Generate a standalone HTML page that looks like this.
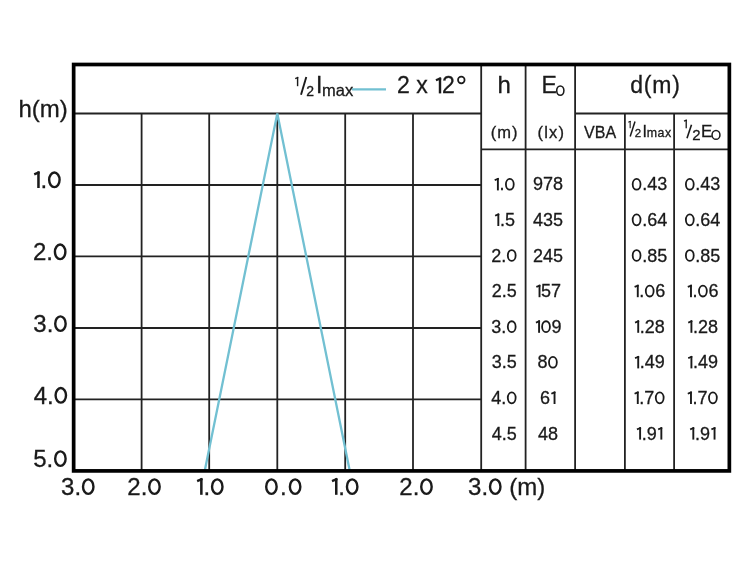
<!DOCTYPE html>
<html><head><meta charset="utf-8">
<style>
html,body{margin:0;padding:0;background:#fff;}
body{width:750px;height:562px;overflow:hidden;}
svg{display:block;will-change:transform;}
text{white-space:pre;font-family:"Liberation Sans",sans-serif;fill:#1a1a1a;stroke:#1a1a1a;stroke-width:0.3px;}
.g line{stroke:#222;stroke-width:1.8;}
.s{stroke:#1a1a1a;fill:none;stroke-linecap:butt;}
</style></head><body>
<svg width="750" height="562" viewBox="0 0 750 562">
<rect width="750" height="562" fill="#fff"/>
<g class="g">
<line x1="73.6" y1="113.5" x2="481.2" y2="113.5"/>
<line x1="73.6" y1="185" x2="481.2" y2="185"/>
<line x1="73.6" y1="256.4" x2="481.2" y2="256.4"/>
<line x1="73.6" y1="328" x2="481.2" y2="328"/>
<line x1="73.6" y1="399.4" x2="481.2" y2="399.4"/>
<line x1="141.6" y1="113.5" x2="141.6" y2="470"/>
<line x1="209.2" y1="113.5" x2="209.2" y2="470"/>
<line x1="277.3" y1="113.5" x2="277.3" y2="470"/>
<line x1="345.2" y1="113.5" x2="345.2" y2="470"/>
<line x1="413" y1="113.5" x2="413" y2="470"/>
<line x1="481.2" y1="64.5" x2="481.2" y2="470"/>
<line x1="525.6" y1="64.5" x2="525.6" y2="470"/>
<line x1="575.1" y1="64.5" x2="575.1" y2="470"/>
<line x1="624.9" y1="113.5" x2="624.9" y2="470"/>
<line x1="674.1" y1="113.5" x2="674.1" y2="470"/>
<line x1="575" y1="113.5" x2="729" y2="113.5"/>
<line x1="481.2" y1="149.4" x2="729" y2="149.4"/>
</g>
<polyline points="204.9,470 277.3,113.5 349.6,470" fill="none" stroke="#72c0d2" stroke-width="2.3" stroke-linejoin="miter"/>
<line x1="352" y1="89.3" x2="386" y2="89.3" stroke="#72c0d2" stroke-width="2.3"/>
<rect x="73.65" y="64.5" width="655.7" height="406.4" fill="none" stroke="#000" stroke-width="3.7"/>
<text x="18.5" y="117" font-size="24">h(m)</text>
<rect x="37.20" y="171.49" width="2.52" height="16.51" fill="#1a1a1a"/><line x1="35.33" y1="173.89" x2="38.46" y2="172.62" stroke="#1a1a1a" stroke-width="2.39" stroke-linecap="square"/>
<text x="40.56" y="188" font-size="24">.</text>
<ellipse cx="54.37" cy="179.83" rx="5.22" ry="7.26" fill="none" stroke="#1a1a1a" stroke-width="2.40"/>
<text x="32.99" y="260" font-size="24">2.</text>
<ellipse cx="60.15" cy="251.83" rx="5.22" ry="7.26" fill="none" stroke="#1a1a1a" stroke-width="2.40"/>
<text x="33.29" y="331.8" font-size="24">3.</text>
<ellipse cx="60.44" cy="323.63" rx="5.22" ry="7.26" fill="none" stroke="#1a1a1a" stroke-width="2.40"/>
<text x="33.65" y="403.5" font-size="24">4.</text>
<ellipse cx="60.80" cy="395.33" rx="5.22" ry="7.26" fill="none" stroke="#1a1a1a" stroke-width="2.40"/>
<text x="33.24" y="466.8" font-size="24">5.</text>
<ellipse cx="60.39" cy="458.63" rx="5.22" ry="7.26" fill="none" stroke="#1a1a1a" stroke-width="2.40"/>
<text x="61.09" y="494.8" font-size="24">3.</text>
<ellipse cx="88.24" cy="486.63" rx="5.22" ry="7.26" fill="none" stroke="#1a1a1a" stroke-width="2.40"/>
<text x="127.29" y="494.8" font-size="24">2.</text>
<ellipse cx="154.45" cy="486.63" rx="5.22" ry="7.26" fill="none" stroke="#1a1a1a" stroke-width="2.40"/>
<rect x="200.10" y="478.29" width="2.52" height="16.51" fill="#1a1a1a"/><line x1="198.23" y1="480.69" x2="201.36" y2="479.42" stroke="#1a1a1a" stroke-width="2.39" stroke-linecap="square"/>
<text x="203.46" y="494.8" font-size="24">.</text>
<ellipse cx="217.27" cy="486.63" rx="5.22" ry="7.26" fill="none" stroke="#1a1a1a" stroke-width="2.40"/>
<ellipse cx="271.42" cy="486.63" rx="5.22" ry="7.26" fill="none" stroke="#1a1a1a" stroke-width="2.40"/>
<text x="280.05" y="494.8" font-size="24" letter-spacing="1.25">.</text>
<ellipse cx="295.11" cy="486.63" rx="5.22" ry="7.26" fill="none" stroke="#1a1a1a" stroke-width="2.40"/>
<rect x="335.00" y="478.29" width="2.52" height="16.51" fill="#1a1a1a"/><line x1="333.13" y1="480.69" x2="336.26" y2="479.42" stroke="#1a1a1a" stroke-width="2.39" stroke-linecap="square"/>
<text x="338.36" y="494.8" font-size="24">.</text>
<ellipse cx="352.17" cy="486.63" rx="5.22" ry="7.26" fill="none" stroke="#1a1a1a" stroke-width="2.40"/>
<text x="399.29" y="494.8" font-size="24">2.</text>
<ellipse cx="426.45" cy="486.63" rx="5.22" ry="7.26" fill="none" stroke="#1a1a1a" stroke-width="2.40"/>
<text x="468.09" y="494.8" font-size="24">3.</text>
<ellipse cx="495.24" cy="486.63" rx="5.22" ry="7.26" fill="none" stroke="#1a1a1a" stroke-width="2.40"/>
<text x="502.62" y="494.8" font-size="24"> (m)</text>
<rect x="296.89" y="76.91" width="1.42" height="9.29" fill="#1a1a1a"/><line x1="295.84" y1="78.26" x2="297.60" y2="77.55" stroke="#1a1a1a" stroke-width="1.35" stroke-linecap="square"/>
<line class="s" x1="301" y1="94.7" x2="306.3" y2="77" stroke-width="1.9"/>
<text x="306.3" y="95.6" font-size="14">2</text>
<text x="316" y="93.4" font-size="23">I</text>
<text x="322" y="95.6" font-size="16.5">max</text>
<text x="397.00" y="93.4" font-size="23">2 x </text>
<rect x="438.79" y="77.58" width="2.42" height="15.82" fill="#1a1a1a"/><line x1="437.00" y1="79.88" x2="439.99" y2="78.66" stroke="#1a1a1a" stroke-width="2.29" stroke-linecap="square"/>
<text x="442.01" y="93.4" font-size="23">2</text>
<circle cx="461.3" cy="80" r="3.3" fill="none" stroke="#1a1a1a" stroke-width="1.7"/>
<text x="504.3" y="93.3" font-size="24" text-anchor="middle">h</text>
<text x="541.5" y="93.3" font-size="23">E</text>
<ellipse cx="560.3" cy="90.6" rx="3.6" ry="4.7" fill="none" stroke="#1a1a1a" stroke-width="1.55"/>
<text x="655.5" y="93" font-size="23" text-anchor="middle" letter-spacing="0.8">d(m)</text>
<text x="504.7" y="137.8" font-size="16.5" text-anchor="middle" letter-spacing="1">(m)</text>
<text x="551.3" y="137.8" font-size="16.5" text-anchor="middle" letter-spacing="1.2">(lx)</text>
<text x="600.1" y="138.2" font-size="16" text-anchor="middle">VBA</text>
<rect x="629.61" y="120.98" width="1.10" height="7.22" fill="#1a1a1a"/><line x1="628.80" y1="122.03" x2="630.16" y2="121.47" stroke="#1a1a1a" stroke-width="1.05" stroke-linecap="square"/>
<line class="s" x1="630.2" y1="136.4" x2="635" y2="121.6" stroke-width="1.5"/>
<text x="634.8" y="137" font-size="11.5">2</text>
<text x="642.6" y="137" font-size="16">I</text>
<text x="646.8" y="137" font-size="12.4" letter-spacing="0.5">max</text>
<rect x="685.56" y="119.70" width="1.31" height="8.60" fill="#1a1a1a"/><line x1="684.59" y1="120.95" x2="686.22" y2="120.29" stroke="#1a1a1a" stroke-width="1.25" stroke-linecap="square"/>
<line class="s" x1="687" y1="138.3" x2="691.5" y2="124.7" stroke-width="1.6"/>
<text x="692.3" y="139.7" font-size="15">2</text>
<text x="701" y="137" font-size="17">E</text>
<ellipse cx="716" cy="134.9" rx="3.95" ry="4.4" fill="none" stroke="#1a1a1a" stroke-width="1.5"/>
<rect x="496.94" y="178.02" width="1.89" height="12.38" fill="#1a1a1a"/><line x1="495.54" y1="179.82" x2="497.88" y2="178.87" stroke="#1a1a1a" stroke-width="1.80" stroke-linecap="square"/>
<text x="499.46" y="190.4" font-size="18">.</text>
<ellipse cx="509.82" cy="184.27" rx="3.92" ry="5.44" fill="none" stroke="#1a1a1a" stroke-width="1.80"/>
<text x="532.98" y="190.4" font-size="18">978</text>
<ellipse cx="636.60" cy="184.27" rx="3.92" ry="5.44" fill="none" stroke="#1a1a1a" stroke-width="1.80"/>
<text x="642.13" y="190.4" font-size="18">.43</text>
<ellipse cx="689.80" cy="184.27" rx="3.92" ry="5.44" fill="none" stroke="#1a1a1a" stroke-width="1.80"/>
<text x="695.33" y="190.4" font-size="18">.43</text>
<rect x="497.38" y="213.62" width="1.89" height="12.38" fill="#1a1a1a"/><line x1="495.98" y1="215.42" x2="498.32" y2="214.47" stroke="#1a1a1a" stroke-width="1.80" stroke-linecap="square"/>
<text x="499.90" y="226.0" font-size="18">.5</text>
<text x="532.98" y="226.0" font-size="18">435</text>
<ellipse cx="636.60" cy="219.87" rx="3.92" ry="5.44" fill="none" stroke="#1a1a1a" stroke-width="1.80"/>
<text x="642.13" y="226.0" font-size="18">.64</text>
<ellipse cx="689.80" cy="219.87" rx="3.92" ry="5.44" fill="none" stroke="#1a1a1a" stroke-width="1.80"/>
<text x="695.33" y="226.0" font-size="18">.64</text>
<text x="491.35" y="261.6" font-size="18">2.</text>
<ellipse cx="511.72" cy="255.47" rx="3.92" ry="5.44" fill="none" stroke="#1a1a1a" stroke-width="1.80"/>
<text x="532.98" y="261.6" font-size="18">245</text>
<ellipse cx="636.60" cy="255.47" rx="3.92" ry="5.44" fill="none" stroke="#1a1a1a" stroke-width="1.80"/>
<text x="642.13" y="261.6" font-size="18">.85</text>
<ellipse cx="689.80" cy="255.47" rx="3.92" ry="5.44" fill="none" stroke="#1a1a1a" stroke-width="1.80"/>
<text x="695.33" y="261.6" font-size="18">.85</text>
<text x="491.79" y="297.2" font-size="18">2.5</text>
<rect x="538.57" y="284.82" width="1.89" height="12.38" fill="#1a1a1a"/><line x1="537.17" y1="286.62" x2="539.52" y2="285.67" stroke="#1a1a1a" stroke-width="1.80" stroke-linecap="square"/>
<text x="541.09" y="297.2" font-size="18">57</text>
<rect x="636.83" y="284.82" width="1.89" height="12.38" fill="#1a1a1a"/><line x1="635.43" y1="286.62" x2="637.78" y2="285.67" stroke="#1a1a1a" stroke-width="1.80" stroke-linecap="square"/>
<text x="639.35" y="297.2" font-size="18">.</text>
<ellipse cx="649.71" cy="291.07" rx="3.92" ry="5.44" fill="none" stroke="#1a1a1a" stroke-width="1.80"/>
<text x="655.25" y="297.2" font-size="18">6</text>
<rect x="690.03" y="284.82" width="1.89" height="12.38" fill="#1a1a1a"/><line x1="688.63" y1="286.62" x2="690.98" y2="285.67" stroke="#1a1a1a" stroke-width="1.80" stroke-linecap="square"/>
<text x="692.55" y="297.2" font-size="18">.</text>
<ellipse cx="702.91" cy="291.07" rx="3.92" ry="5.44" fill="none" stroke="#1a1a1a" stroke-width="1.80"/>
<text x="708.45" y="297.2" font-size="18">6</text>
<text x="491.35" y="332.8" font-size="18">3.</text>
<ellipse cx="511.72" cy="326.67" rx="3.92" ry="5.44" fill="none" stroke="#1a1a1a" stroke-width="1.80"/>
<rect x="538.13" y="320.42" width="1.89" height="12.38" fill="#1a1a1a"/><line x1="536.74" y1="322.22" x2="539.08" y2="321.27" stroke="#1a1a1a" stroke-width="1.80" stroke-linecap="square"/>
<ellipse cx="546.01" cy="326.67" rx="3.92" ry="5.44" fill="none" stroke="#1a1a1a" stroke-width="1.80"/>
<text x="551.54" y="332.8" font-size="18">9</text>
<rect x="637.27" y="320.42" width="1.89" height="12.38" fill="#1a1a1a"/><line x1="635.87" y1="322.22" x2="638.22" y2="321.27" stroke="#1a1a1a" stroke-width="1.80" stroke-linecap="square"/>
<text x="639.79" y="332.8" font-size="18">.28</text>
<rect x="690.47" y="320.42" width="1.89" height="12.38" fill="#1a1a1a"/><line x1="689.07" y1="322.22" x2="691.42" y2="321.27" stroke="#1a1a1a" stroke-width="1.80" stroke-linecap="square"/>
<text x="692.99" y="332.8" font-size="18">.28</text>
<text x="491.79" y="368.4" font-size="18">3.5</text>
<text x="537.55" y="368.4" font-size="18">8</text>
<ellipse cx="552.92" cy="362.27" rx="3.92" ry="5.44" fill="none" stroke="#1a1a1a" stroke-width="1.80"/>
<rect x="637.27" y="356.02" width="1.89" height="12.38" fill="#1a1a1a"/><line x1="635.87" y1="357.82" x2="638.22" y2="356.87" stroke="#1a1a1a" stroke-width="1.80" stroke-linecap="square"/>
<text x="639.79" y="368.4" font-size="18">.49</text>
<rect x="690.47" y="356.02" width="1.89" height="12.38" fill="#1a1a1a"/><line x1="689.07" y1="357.82" x2="691.42" y2="356.87" stroke="#1a1a1a" stroke-width="1.80" stroke-linecap="square"/>
<text x="692.99" y="368.4" font-size="18">.49</text>
<text x="491.35" y="404.0" font-size="18">4.</text>
<ellipse cx="511.72" cy="397.87" rx="3.92" ry="5.44" fill="none" stroke="#1a1a1a" stroke-width="1.80"/>
<text x="539.89" y="404.0" font-size="18">6</text>
<rect x="553.59" y="391.62" width="1.89" height="12.38" fill="#1a1a1a"/><line x1="552.19" y1="393.42" x2="554.54" y2="392.47" stroke="#1a1a1a" stroke-width="1.80" stroke-linecap="square"/>
<rect x="636.83" y="391.62" width="1.89" height="12.38" fill="#1a1a1a"/><line x1="635.43" y1="393.42" x2="637.78" y2="392.47" stroke="#1a1a1a" stroke-width="1.80" stroke-linecap="square"/>
<text x="639.35" y="404.0" font-size="18">.7</text>
<ellipse cx="659.72" cy="397.87" rx="3.92" ry="5.44" fill="none" stroke="#1a1a1a" stroke-width="1.80"/>
<rect x="690.03" y="391.62" width="1.89" height="12.38" fill="#1a1a1a"/><line x1="688.63" y1="393.42" x2="690.98" y2="392.47" stroke="#1a1a1a" stroke-width="1.80" stroke-linecap="square"/>
<text x="692.55" y="404.0" font-size="18">.7</text>
<ellipse cx="712.92" cy="397.87" rx="3.92" ry="5.44" fill="none" stroke="#1a1a1a" stroke-width="1.80"/>
<text x="491.79" y="439.6" font-size="18">4.5</text>
<text x="537.99" y="439.6" font-size="18">48</text>
<rect x="639.17" y="427.22" width="1.89" height="12.38" fill="#1a1a1a"/><line x1="637.77" y1="429.02" x2="640.12" y2="428.07" stroke="#1a1a1a" stroke-width="1.80" stroke-linecap="square"/>
<text x="641.69" y="439.6" font-size="18">.9</text>
<rect x="660.40" y="427.22" width="1.89" height="12.38" fill="#1a1a1a"/><line x1="659.00" y1="429.02" x2="661.34" y2="428.07" stroke="#1a1a1a" stroke-width="1.80" stroke-linecap="square"/>
<rect x="692.37" y="427.22" width="1.89" height="12.38" fill="#1a1a1a"/><line x1="690.97" y1="429.02" x2="693.32" y2="428.07" stroke="#1a1a1a" stroke-width="1.80" stroke-linecap="square"/>
<text x="694.89" y="439.6" font-size="18">.9</text>
<rect x="713.60" y="427.22" width="1.89" height="12.38" fill="#1a1a1a"/><line x1="712.20" y1="429.02" x2="714.54" y2="428.07" stroke="#1a1a1a" stroke-width="1.80" stroke-linecap="square"/>
</svg>
</body></html>
